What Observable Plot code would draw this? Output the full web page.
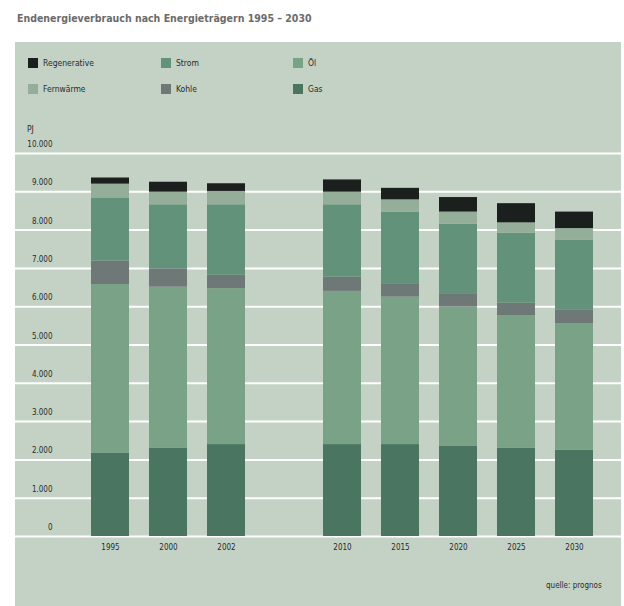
<!DOCTYPE html>
<html>
<head>
<meta charset="utf-8">
<script src="https://cdn.jsdelivr.net/npm/d3@7"></script>
<script src="https://cdn.jsdelivr.net/npm/@observablehq/plot@0.6"></script>
<style>
  html, body { margin: 0; padding: 0; background: #ffffff; }
  #root { position: relative; width: 624px; height: 606px; overflow: hidden; font-family: "DejaVu Sans Condensed", "DejaVu Sans", sans-serif; }
  #title { position: absolute; left: 17px; top: 12px; font-size: 10.5px; font-weight: bold; color: #6b6b6b; white-space: nowrap; }
  #panel { position: absolute; left: 15px; top: 42px; width: 606px; height: 564px; background: #c4d2c5; }
  .lg { position: absolute; display: flex; align-items: center; font-size: 8.5px; color: #2a2a2a; white-space: nowrap; }
  .sw { width: 10px; height: 10px; margin-right: 5px; }
  #unit { position: absolute; left: 27px; top: 124px; font-size: 8.5px; color: #2a2a2a; }
  #src { position: absolute; left: 546px; top: 581px; font-size: 8px; color: #2a2a2a; white-space: nowrap; }
  #chart { position: absolute; left: 0; top: 100px; }
</style>
</head>
<body>
<div id="root">
  <div id="title">Endenergieverbrauch nach Energieträgern 1995 – 2030</div>
  <div id="panel"></div>
  <div id="legend"></div>
  <div id="unit">PJ</div>
  <div id="chart"></div>
  <div id="src">quelle: prognos</div>
</div>
<script>
// Categories (a blank slot separates history from projection)
const years = ["1995", "2000", "2002", "gap", "2010", "2015", "2020", "2025", "2030"];
const dataYears = ["1995", "2000", "2002", "2010", "2015", "2020", "2025", "2030"];
// Energy carriers, stacked bottom to top
const carriers = ["Gas", "Öl", "Kohle", "Strom", "Fernwärme", "Regenerative"];
const colors = ["#4a7560", "#7aa287", "#6e7876", "#62927a", "#95ae9a", "#1b1f1e"];
// Values in PJ per year
const gas          = [2180, 2300, 2400, 2400, 2400, 2350, 2300, 2250];
const oel          = [4400, 4210, 4070, 4000, 3850, 3640, 3470, 3310];
const kohle        = [610,  480,  350,  370,  350,  330,  320,  360];
const strom        = [1650, 1670, 1840, 1890, 1870, 1830, 1830, 1810];
const fernwaerme   = [360,  330,  350,  330,  320,  320,  270,  310];
const regenerative = [160,  260,  200,  320,  300,  380,  500,  430];
const yTicks = [0, 1000, 2000, 3000, 4000, 5000, 6000, 7000, 8000, 9000, 10000];

const series = [gas, oel, kohle, strom, fernwaerme, regenerative];
const rows = [];
dataYears.forEach((yr, i) => {
  carriers.forEach((c, j) => rows.push({ year: yr, type: c, value: series[j][i] }));
});

const de = d3.formatLocale({ decimal: ",", thousands: ".", grouping: [3], currency: ["", " €"] });
const fmt = de.format(",d");

// Legend (HTML)
const legendOrder = [
  ["Regenerative", 28, 58], ["Strom", 161, 58], ["Öl", 293, 58],
  ["Fernwärme", 28, 84], ["Kohle", 161, 84], ["Gas", 293, 84]
];
const lg = document.getElementById("legend");
legendOrder.forEach(([name, x, y]) => {
  const d = document.createElement("div");
  d.className = "lg";
  d.style.left = x + "px";
  d.style.top = y + "px";
  const s = document.createElement("div");
  s.className = "sw";
  s.style.background = colors[carriers.indexOf(name)];
  d.appendChild(s);
  d.appendChild(document.createTextNode(name));
  lg.appendChild(d);
});

const chart = Plot.plot({
  width: 624,
  height: 506,
  marginLeft: 15,
  marginRight: 3,
  marginTop: 53,
  marginBottom: 70,
  style: { background: "transparent", fontFamily: "DejaVu Sans Condensed, DejaVu Sans, sans-serif", fontSize: "8px", color: "#2a2a2a" },
  x: { type: "band", domain: years, paddingInner: 0.338, paddingOuter: 0.8155, align: 0.7345, label: null },
  y: { domain: [0, 10000], label: null },
  color: { domain: carriers, range: colors },
  marks: [
    Plot.ruleY(yTicks, { stroke: "#ffffff", strokeWidth: 2 }),
    Plot.barY(rows, Plot.stackY({ x: "year", y: "value", fill: "type", order: carriers })),
    Plot.axisY(yTicks, { anchor: "left", tickSize: 0, tickPadding: 3, dx: 40, dy: -9, tickFormat: fmt, label: null, fill: "#2a2a2a" }),
    Plot.axisX({ ticks: dataYears, tickSize: 0, tickPadding: 8, tickFormat: d => d, label: null, fill: "#2a2a2a" })
  ]
});
document.getElementById("chart").appendChild(chart);
</script>
</body>
</html>
